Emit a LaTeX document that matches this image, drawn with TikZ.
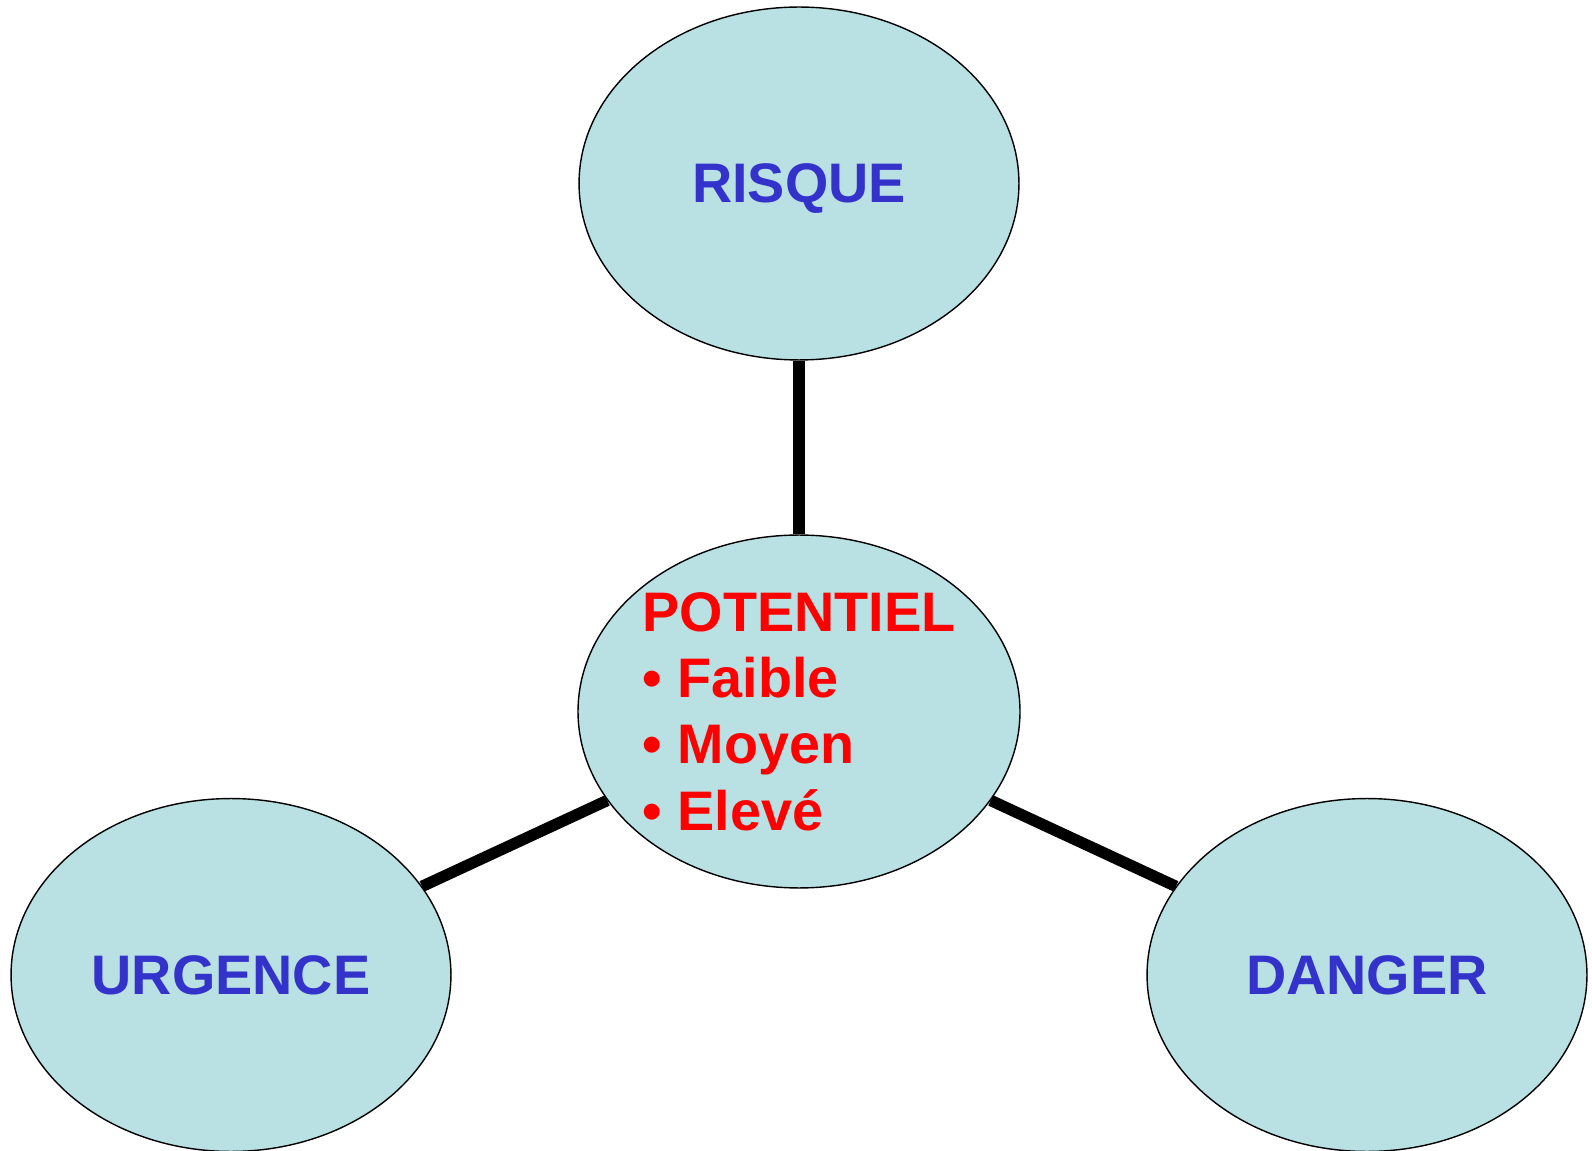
\documentclass[tikz,border=0pt]{standalone}
\usepackage{fontspec}
\setmainfont{Liberation Sans}
\usetikzlibrary{shapes.geometric}
\definecolor{fondbulle}{HTML}{B9E0E3}
\definecolor{bleutitre}{HTML}{3333CC}
\begin{document}
\begin{tikzpicture}[x=0.02cm,y=-0.02cm,
  bulle/.style={draw, ellipse, fill=fondbulle, line width=0.8pt,
    minimum width=8.8cm, minimum height=7.06cm, inner sep=0pt,
    font=\bfseries\fontsize{31.7}{37.8}\selectfont},
  titre/.style={bulle, text=bleutitre, text depth=0pt},
  lien/.style={line width=6.5pt}]
\useasboundingbox (0,0) rectangle (1592,1151);

\node[titre] (risque) at (799,183.5) {RISQUE};
\node[bulle, text=red, align=left] (potentiel) at (799,711.5)
  {POTENTIEL\\\textbullet\ Faible\\\textbullet\ Moyen\\\textbullet\ Elevé};
\node[titre] (urgence) at (231,975) {URGENCE};
\node[titre] (danger) at (1367,975) {DANGER};

\path[draw,lien] (risque) -- (potentiel);
\path[draw,lien] (urgence) -- (potentiel);
\path[draw,lien] (danger) -- (potentiel);
\end{tikzpicture}
\end{document}
